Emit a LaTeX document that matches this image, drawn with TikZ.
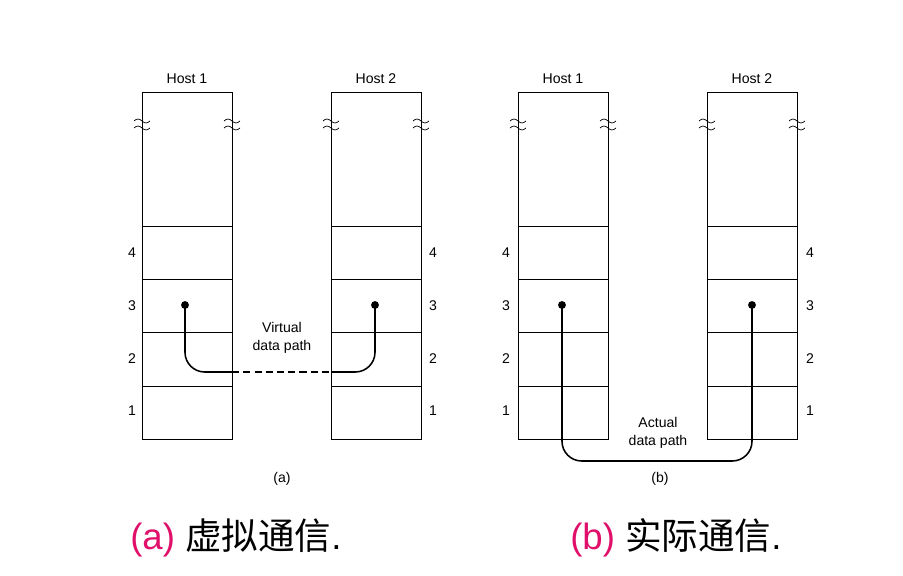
\documentclass[tikz,border=0pt]{standalone}
\usepackage{fontspec}
\setmainfont{Liberation Sans}
\newfontfamily\cjk{Noto Sans CJK SC}
\usetikzlibrary{positioning}
\definecolor{capred}{HTML}{E0106A}

\begin{document}
\begin{tikzpicture}[x=0.025cm,y=-0.025cm,
        lbl/.style={font=\fontsize{10}{12.8}\selectfont},
        dot/.style={circle,fill=black,inner sep=0pt,minimum size=5.6pt},
        datapath/.style={line width=1.1pt,rounded corners=14pt},
        captext/.style={font=\fontsize{26}{30}\selectfont,anchor=west,inner sep=0pt}]
        \useasboundingbox (0,0) rectangle (903,576);

        % the four protocol stacks
        \foreach \x/\n/\name in {142/1/ha1,331/2/ha2,518/1/hb1,707/2/hb2} {
            \draw[line width=0.6pt] (\x,439) rectangle (\x+90,92);
            \foreach \y in {226,279,332,386} {
                \draw[line width=0.6pt] (\x,\y) -- (\x+90,\y);
            }
            \node[lbl] (\name) at (\x+45,79) {Host \n};
            % break marks
            \foreach \dx in {0,90} {
                \foreach \by in {121,128} {
                    \draw[line width=0.5pt] (\x+\dx-8,\by) sin (\x+\dx-4,\by-2) cos (\x+\dx,\by) sin (\x+\dx+4,\by+2) cos (\x+\dx+8,\by);
                }
            }
        }

        % layer numbers
        \foreach \y/\k in {253/4,306/3,359/2,411/1} {
            \node[lbl] (la\k) at (132,\y) {\k};
            \node[lbl] (ra\k) at (433,\y) {\k};
            \node[lbl] (lb\k) at (506,\y) {\k};
            \node[lbl] (rb\k) at (810,\y) {\k};
        }

        % (a) virtual path
        \node[dot] (va) at (185,305) {};
        \node[dot] (vb) at (375,305) {};
        \coordinate (vl) at (232,372);
        \coordinate (vr) at (331,372);
        \draw[datapath] (va.center) |- (vl);
        \draw[line width=1.1pt,dash pattern=on 5pt off 3pt] (vl) -- (vr);
        \draw[datapath] (vr) -| (vb.center);
        \node[lbl,align=center] (vtext) at (282,338) {Virtual\\data path};

        % (b) actual path
        \node[dot] (aa) at (562,305) {};
        \node[dot] (ab) at (752,305) {};
        \coordinate (am) at (657,461);
        \draw[datapath] (aa.center) |- (am) -| (ab.center);
        \node[lbl,align=center] (atext) at (658,433) {Actual\\data path};

        \node[lbl] (suba) at (282,479) {(a)};
        \node[lbl] (subb) at (660,479) {(b)};

        % captions
        \node[captext] (capa) at (130,538) {\textcolor{capred}{(a)} {\cjk 虚拟通信}.};
        \node[captext] (capb) at (570,538) {\textcolor{capred}{(b)} {\cjk 实际通信}.};
\end{tikzpicture}
\end{document}
